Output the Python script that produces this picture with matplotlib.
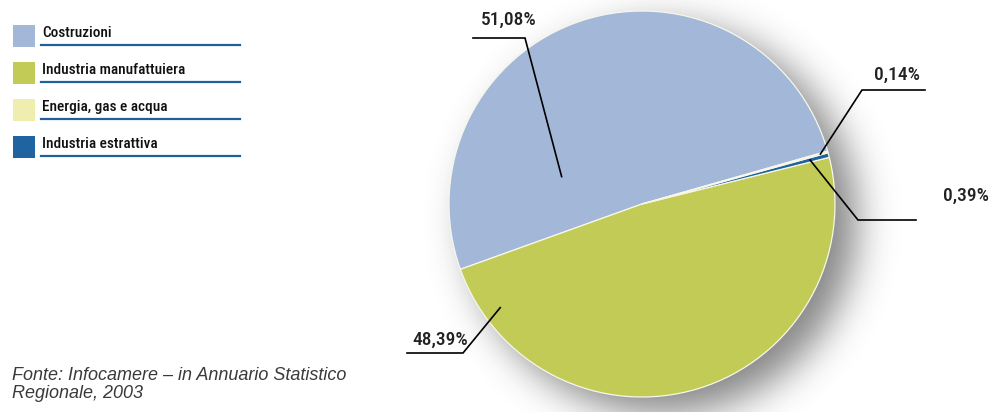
import numpy as np
import matplotlib
matplotlib.use('Agg')
import matplotlib.pyplot as plt
from matplotlib.patches import Rectangle
from math import erf

# Quote per settore (%)
settori = ['Costruzioni', 'Industria manufattuiera', 'Energia, gas e acqua', 'Industria estrattiva']
quote = [51.08, 48.39, 0.14, 0.39]
etichette = ['51,08%', '48,39%', '0,14%', '0,39%']
colori = ['#a3b8d8', '#c2cb56', '#efeeae', '#1f63a0']
fonte = 'Fonte: Infocamere – in Annuario Statistico\nRegionale, 2003'

W, H = 997, 412
fig = plt.figure(figsize=(W / 100, H / 100), dpi=100)
ax = fig.add_axes([0, 0, 1, 1])

cx, cy, R = 642, H - 204, 193

# ombra sfumata sotto la torta
xx, yy = np.meshgrid(np.arange(W) + 0.5, np.arange(H) + 0.5)
d = np.hypot(xx - (cx + 20), yy - (cy - 16))
verf = np.vectorize(erf)
alpha = 0.56 * 0.5 * (1 - verf((d - R) / (np.sqrt(2) * 19)))
shadow = np.zeros((H, W, 4))
shadow[..., :3] = 0.15
shadow[..., 3] = alpha
ax.imshow(shadow, extent=(0, W, 0, H), origin='lower', zorder=0)

# ordine in senso antiorario: costruzioni, manifattura, estrattiva, energia
ordine = [0, 1, 3, 2]
wedges, _ = ax.pie([quote[i] for i in ordine], colors=[colori[i] for i in ordine],
                   startangle=15.9, center=(cx, cy), radius=R, frame=True,
                   wedgeprops=dict(edgecolor='#f7f7ea', linewidth=0.9))
for w in wedges:
    w.set_zorder(2)
wedge_of = {i: wedges[k] for k, i in enumerate(ordine)}

# richiami: (frazione angolare nello spicchio, frazione del raggio), gomito, fine, testo
richiami = [
    ((0.79, 0.44), (525, 38), (473, 38), (509, 20)),
    ((0.094, 0.91), (463, 353), (407, 353), (440, 340)),
    ((0.5, 0.96), (862, 90), (925, 90), (897, 75)),
    ((0.5, 0.90), (858, 220), (916, 220), (966, 196)),
]
cond = ['Roboto Condensed', 'DejaVu Sans']
for i, (anc, gomito, fine, testo) in enumerate(richiami):
    w = wedge_of[i]
    a = np.radians(w.theta1 + anc[0] * (w.theta2 - w.theta1))
    px, py = cx + anc[1] * R * np.cos(a), cy + anc[1] * R * np.sin(a)
    ax.plot([px, gomito[0], fine[0]], [py, H - gomito[1], H - fine[1]],
            color='black', lw=1.2, zorder=3, solid_joinstyle='miter')
    ax.text(testo[0], H - testo[1], etichette[i], ha='center', va='center', zorder=4,
            family=cond, fontsize=14, weight='medium', color='#222222')

# legenda
for i, nome in enumerate(settori):
    top = 25 + 37 * i
    ax.add_patch(Rectangle((13, H - top - 22), 22, 22, facecolor=colori[i], edgecolor='none'))
    ax.plot([41, 240], [H - top - 20, H - top - 20], color='#1f5f9a', lw=1.6)
    ax.text(42, H - top - 8, nome, ha='left', va='center',
            family=cond, fontsize=11, weight='medium', color='#111111')

ax.text(12, H - 367, fonte, ha='left', va='top', fontsize=13, style='italic',
        family=['Liberation Sans', 'DejaVu Sans'], color='#3a3a3a', linespacing=1.1)

ax.set_xlim(0, W)
ax.set_ylim(0, H)
ax.set_aspect('auto')
ax.axis('off')

fig.savefig('out.png', dpi=100)
